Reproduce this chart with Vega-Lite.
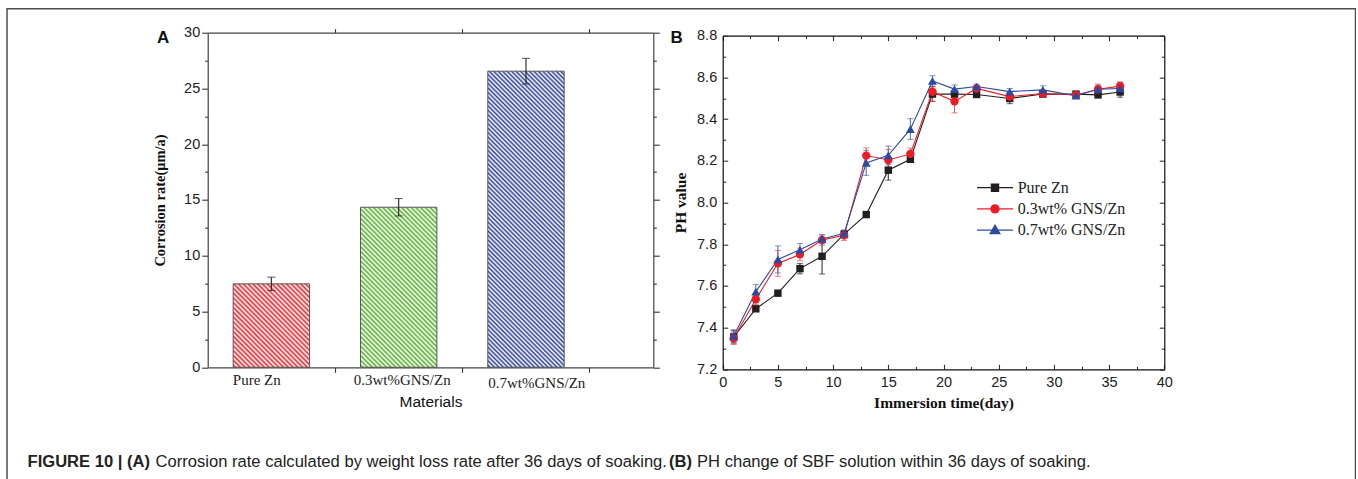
{
"$schema":"https://vega.github.io/schema/vega-lite/v6.json",
"width":1348.5,"height":480,
"autosize":{"type":"none"},
"padding":{"left":7,"top":8.7,"right":0,"bottom":0},
"background":"white",
"view":{"stroke":"#4d4d4d","strokeWidth":1.5,"fill":"white"},
"config":{"font":"Liberation Sans","axis":{"grid":false,"domainColor":"#333","tickColor":"#333","domainWidth":1.2,"tickWidth":1.1,"labelColor":"#222","labelFont":"Liberation Sans","labelFontSize":14.5,"titleColor":"#111","labelFlush":false,"labelOverlap":false,"labelBound":false}},
"resolve":{"scale":{"x":"independent","y":"independent"},"axis":{"x":"independent","y":"independent"}},
"layer":[
{
"data":{"values":[{"material":"Pure Zn","rate":7.48,"err":0.6},{"material":"0.3wt%GNS/Zn","rate":14.35,"err":0.78},{"material":"0.7wt%GNS/Zn","rate":26.55,"err":1.15}]},
"resolve":{"axis":{"x":"independent","y":"independent"}},
"layer":[
{"transform":[{"filter":"datum.material === 'Pure Zn'"}],
"mark":{"type":"bar","width":{"band":0.6},"stroke":"#555","strokeWidth":1,"fill":{"gradient":"linear","x1":0,"y1":1,"x2":0.955,"y2":-0.041,"stops":[
{"offset":0,"color":"#fff"},{"offset":0.015,"color":"#e8262d"},{"offset":0.03,"color":"#fff"},{"offset":0.045,"color":"#e8262d"},{"offset":0.06,"color":"#fff"},{"offset":0.075,"color":"#e8262d"},{"offset":0.09,"color":"#fff"},{"offset":0.105,"color":"#e8262d"},{"offset":0.12,"color":"#fff"},{"offset":0.135,"color":"#e8262d"},{"offset":0.15,"color":"#fff"},{"offset":0.165,"color":"#e8262d"},{"offset":0.18,"color":"#fff"},{"offset":0.195,"color":"#e8262d"},{"offset":0.21,"color":"#fff"},{"offset":0.225,"color":"#e8262d"},{"offset":0.24,"color":"#fff"},{"offset":0.255,"color":"#e8262d"},{"offset":0.27,"color":"#fff"},{"offset":0.285,"color":"#e8262d"},{"offset":0.3,"color":"#fff"},{"offset":0.315,"color":"#e8262d"},{"offset":0.33,"color":"#fff"},{"offset":0.345,"color":"#e8262d"},{"offset":0.36,"color":"#fff"},{"offset":0.375,"color":"#e8262d"},{"offset":0.39,"color":"#fff"},{"offset":0.405,"color":"#e8262d"},{"offset":0.42,"color":"#fff"},{"offset":0.435,"color":"#e8262d"},{"offset":0.45,"color":"#fff"},{"offset":0.465,"color":"#e8262d"},{"offset":0.48,"color":"#fff"},{"offset":0.495,"color":"#e8262d"},{"offset":0.51,"color":"#fff"},{"offset":0.525,"color":"#e8262d"},{"offset":0.54,"color":"#fff"},{"offset":0.555,"color":"#e8262d"},{"offset":0.57,"color":"#fff"},{"offset":0.585,"color":"#e8262d"},{"offset":0.6,"color":"#fff"},{"offset":0.615,"color":"#e8262d"},{"offset":0.63,"color":"#fff"},{"offset":0.645,"color":"#e8262d"},{"offset":0.66,"color":"#fff"},{"offset":0.675,"color":"#e8262d"},{"offset":0.69,"color":"#fff"},{"offset":0.705,"color":"#e8262d"},{"offset":0.72,"color":"#fff"},{"offset":0.735,"color":"#e8262d"},{"offset":0.75,"color":"#fff"},{"offset":0.765,"color":"#e8262d"},{"offset":0.78,"color":"#fff"},{"offset":0.795,"color":"#e8262d"},{"offset":0.81,"color":"#fff"},{"offset":0.825,"color":"#e8262d"},{"offset":0.84,"color":"#fff"},{"offset":0.855,"color":"#e8262d"},{"offset":0.87,"color":"#fff"},{"offset":0.885,"color":"#e8262d"},{"offset":0.9,"color":"#fff"},{"offset":0.915,"color":"#e8262d"},{"offset":0.93,"color":"#fff"},{"offset":0.945,"color":"#e8262d"},{"offset":0.96,"color":"#fff"},{"offset":0.975,"color":"#e8262d"},{"offset":0.99,"color":"#fff"},{"offset":1,"color":"#e8262d"}]}},
"encoding":{
"x":{"field":"material","type":"nominal","scale":{"domain":["Pure Zn","0.3wt%GNS/Zn","0.7wt%GNS/Zn"],"range":[200.7,646.3],"paddingInner":0,"paddingOuter":0.25,"align":0},
"axis":{"orient":"bottom","offset":-121.4,"bandPosition":1,"tickSize":5,"domainColor":"#444","labelAngle":0,"labelAlign":"center","labelBaseline":"top","labelFont":"Liberation Serif","labelFontSize":15,"labelOffset":{"condition":[{"test":"datum.value === 'Pure Zn'","value":-14.6},{"test":"datum.value === '0.3wt%GNS/Zn'","value":3.5}],"value":10.8},"labelPadding":{"condition":{"test":"datum.value === '0.7wt%GNS/Zn'","value":3},"value":0},"title":"Materials","titleFont":"Liberation Sans","titleFontWeight":"normal","titleFontSize":15.5,"titlePadding":4}},
"y":{"field":"rate","type":"quantitative","scale":{"domain":[0,30],"range":[358.6,24],"nice":false,"zero":false},
"axis":{"orient":"left","offset":-200.7,"domainColor":"#444","values":[0,2.5,5,7.5,10,12.5,15,17.5,20,22.5,25,27.5,30],"tickSize":{"condition":{"test":"datum.value % 5 === 0","value":6},"value":3},"labelExpr":"datum.value % 5 === 0 ? datum.label : ''","labelPadding":2,"title":"Corrosion rate(μm/a)","titleFont":"Liberation Serif","titleFontWeight":"bold","titleFontSize":14.5,"titlePadding":16}}}},
{"transform":[{"filter":"datum.material === '0.3wt%GNS/Zn'"}],
"mark":{"type":"bar","width":{"band":0.6},"stroke":"#555","strokeWidth":1,"fill":{"gradient":"linear","x1":0,"y1":1,"x2":0.575,"y2":-0.203,"stops":[
{"offset":0,"color":"#fff"},{"offset":0.01,"color":"#58b030"},{"offset":0.02,"color":"#fff"},{"offset":0.03,"color":"#58b030"},{"offset":0.04,"color":"#fff"},{"offset":0.05,"color":"#58b030"},{"offset":0.06,"color":"#fff"},{"offset":0.07,"color":"#58b030"},{"offset":0.08,"color":"#fff"},{"offset":0.09,"color":"#58b030"},{"offset":0.1,"color":"#fff"},{"offset":0.11,"color":"#58b030"},{"offset":0.12,"color":"#fff"},{"offset":0.13,"color":"#58b030"},{"offset":0.14,"color":"#fff"},{"offset":0.15,"color":"#58b030"},{"offset":0.16,"color":"#fff"},{"offset":0.17,"color":"#58b030"},{"offset":0.18,"color":"#fff"},{"offset":0.19,"color":"#58b030"},{"offset":0.2,"color":"#fff"},{"offset":0.21,"color":"#58b030"},{"offset":0.22,"color":"#fff"},{"offset":0.23,"color":"#58b030"},{"offset":0.24,"color":"#fff"},{"offset":0.25,"color":"#58b030"},{"offset":0.26,"color":"#fff"},{"offset":0.27,"color":"#58b030"},{"offset":0.28,"color":"#fff"},{"offset":0.29,"color":"#58b030"},{"offset":0.3,"color":"#fff"},{"offset":0.31,"color":"#58b030"},{"offset":0.32,"color":"#fff"},{"offset":0.33,"color":"#58b030"},{"offset":0.34,"color":"#fff"},{"offset":0.35,"color":"#58b030"},{"offset":0.36,"color":"#fff"},{"offset":0.37,"color":"#58b030"},{"offset":0.38,"color":"#fff"},{"offset":0.39,"color":"#58b030"},{"offset":0.4,"color":"#fff"},{"offset":0.41,"color":"#58b030"},{"offset":0.42,"color":"#fff"},{"offset":0.43,"color":"#58b030"},{"offset":0.44,"color":"#fff"},{"offset":0.45,"color":"#58b030"},{"offset":0.46,"color":"#fff"},{"offset":0.47,"color":"#58b030"},{"offset":0.48,"color":"#fff"},{"offset":0.49,"color":"#58b030"},{"offset":0.5,"color":"#fff"},{"offset":0.51,"color":"#58b030"},{"offset":0.52,"color":"#fff"},{"offset":0.53,"color":"#58b030"},{"offset":0.54,"color":"#fff"},{"offset":0.55,"color":"#58b030"},{"offset":0.56,"color":"#fff"},{"offset":0.57,"color":"#58b030"},{"offset":0.58,"color":"#fff"},{"offset":0.59,"color":"#58b030"},{"offset":0.6,"color":"#fff"},{"offset":0.61,"color":"#58b030"},{"offset":0.62,"color":"#fff"},{"offset":0.63,"color":"#58b030"},{"offset":0.64,"color":"#fff"},{"offset":0.65,"color":"#58b030"},{"offset":0.66,"color":"#fff"},{"offset":0.67,"color":"#58b030"},{"offset":0.68,"color":"#fff"},{"offset":0.69,"color":"#58b030"},{"offset":0.7,"color":"#fff"},{"offset":0.71,"color":"#58b030"},{"offset":0.72,"color":"#fff"},{"offset":0.73,"color":"#58b030"},{"offset":0.74,"color":"#fff"},{"offset":0.75,"color":"#58b030"},{"offset":0.76,"color":"#fff"},{"offset":0.77,"color":"#58b030"},{"offset":0.78,"color":"#fff"},{"offset":0.79,"color":"#58b030"},{"offset":0.8,"color":"#fff"},{"offset":0.81,"color":"#58b030"},{"offset":0.82,"color":"#fff"},{"offset":0.83,"color":"#58b030"},{"offset":0.84,"color":"#fff"},{"offset":0.85,"color":"#58b030"},{"offset":0.86,"color":"#fff"},{"offset":0.87,"color":"#58b030"},{"offset":0.88,"color":"#fff"},{"offset":0.89,"color":"#58b030"},{"offset":0.9,"color":"#fff"},{"offset":0.91,"color":"#58b030"},{"offset":0.92,"color":"#fff"},{"offset":0.93,"color":"#58b030"},{"offset":0.94,"color":"#fff"},{"offset":0.95,"color":"#58b030"},{"offset":0.96,"color":"#fff"},{"offset":0.97,"color":"#58b030"},{"offset":0.98,"color":"#fff"},{"offset":0.99,"color":"#58b030"},{"offset":1,"color":"#fff"}]}},
"encoding":{
"x":{"field":"material","type":"nominal","scale":{"domain":["Pure Zn","0.3wt%GNS/Zn","0.7wt%GNS/Zn"],"range":[200.7,646.3],"paddingInner":0,"paddingOuter":0.25,"align":0},
"axis":{"orient":"bottom","offset":-121.4,"domain":false,"ticks":false,"labels":false,"title":"Corrosion rate calculated by weight loss rate after 36 days of soaking.","titleX":148,"titleY":99.7,"titleAngle":0,"titleAlign":"left","titleBaseline":"alphabetic","titleFont":"Liberation Sans","titleFontWeight":"normal","titleFontSize":16.6,"titleColor":"#222"}},
"y":{"field":"rate","type":"quantitative","scale":{"domain":[0,30],"range":[358.6,24],"nice":false,"zero":false},"axis":null}}},
{"transform":[{"filter":"datum.material === '0.7wt%GNS/Zn'"}],
"mark":{"type":"bar","width":{"band":0.6},"stroke":"#555","strokeWidth":1,"fill":{"gradient":"linear","x1":0,"y1":1,"x2":0.305,"y2":-0.18,"stops":[
{"offset":0,"color":"#fff"},{"offset":0.006,"color":"#2e3e9a"},{"offset":0.012,"color":"#fff"},{"offset":0.018,"color":"#2e3e9a"},{"offset":0.024,"color":"#fff"},{"offset":0.03,"color":"#2e3e9a"},{"offset":0.036,"color":"#fff"},{"offset":0.042,"color":"#2e3e9a"},{"offset":0.048,"color":"#fff"},{"offset":0.054,"color":"#2e3e9a"},{"offset":0.06,"color":"#fff"},{"offset":0.066,"color":"#2e3e9a"},{"offset":0.072,"color":"#fff"},{"offset":0.078,"color":"#2e3e9a"},{"offset":0.084,"color":"#fff"},{"offset":0.09,"color":"#2e3e9a"},{"offset":0.096,"color":"#fff"},{"offset":0.102,"color":"#2e3e9a"},{"offset":0.108,"color":"#fff"},{"offset":0.114,"color":"#2e3e9a"},{"offset":0.12,"color":"#fff"},{"offset":0.126,"color":"#2e3e9a"},{"offset":0.132,"color":"#fff"},{"offset":0.138,"color":"#2e3e9a"},{"offset":0.144,"color":"#fff"},{"offset":0.15,"color":"#2e3e9a"},{"offset":0.156,"color":"#fff"},{"offset":0.162,"color":"#2e3e9a"},{"offset":0.168,"color":"#fff"},{"offset":0.174,"color":"#2e3e9a"},{"offset":0.18,"color":"#fff"},{"offset":0.186,"color":"#2e3e9a"},{"offset":0.192,"color":"#fff"},{"offset":0.198,"color":"#2e3e9a"},{"offset":0.204,"color":"#fff"},{"offset":0.21,"color":"#2e3e9a"},{"offset":0.216,"color":"#fff"},{"offset":0.222,"color":"#2e3e9a"},{"offset":0.228,"color":"#fff"},{"offset":0.234,"color":"#2e3e9a"},{"offset":0.24,"color":"#fff"},{"offset":0.246,"color":"#2e3e9a"},{"offset":0.252,"color":"#fff"},{"offset":0.258,"color":"#2e3e9a"},{"offset":0.264,"color":"#fff"},{"offset":0.27,"color":"#2e3e9a"},{"offset":0.276,"color":"#fff"},{"offset":0.282,"color":"#2e3e9a"},{"offset":0.288,"color":"#fff"},{"offset":0.294,"color":"#2e3e9a"},{"offset":0.3,"color":"#fff"},{"offset":0.306,"color":"#2e3e9a"},{"offset":0.312,"color":"#fff"},{"offset":0.318,"color":"#2e3e9a"},{"offset":0.324,"color":"#fff"},{"offset":0.33,"color":"#2e3e9a"},{"offset":0.336,"color":"#fff"},{"offset":0.342,"color":"#2e3e9a"},{"offset":0.348,"color":"#fff"},{"offset":0.354,"color":"#2e3e9a"},{"offset":0.36,"color":"#fff"},{"offset":0.366,"color":"#2e3e9a"},{"offset":0.372,"color":"#fff"},{"offset":0.378,"color":"#2e3e9a"},{"offset":0.384,"color":"#fff"},{"offset":0.39,"color":"#2e3e9a"},{"offset":0.396,"color":"#fff"},{"offset":0.402,"color":"#2e3e9a"},{"offset":0.408,"color":"#fff"},{"offset":0.414,"color":"#2e3e9a"},{"offset":0.42,"color":"#fff"},{"offset":0.426,"color":"#2e3e9a"},{"offset":0.432,"color":"#fff"},{"offset":0.438,"color":"#2e3e9a"},{"offset":0.444,"color":"#fff"},{"offset":0.45,"color":"#2e3e9a"},{"offset":0.456,"color":"#fff"},{"offset":0.462,"color":"#2e3e9a"},{"offset":0.468,"color":"#fff"},{"offset":0.474,"color":"#2e3e9a"},{"offset":0.48,"color":"#fff"},{"offset":0.486,"color":"#2e3e9a"},{"offset":0.492,"color":"#fff"},{"offset":0.498,"color":"#2e3e9a"},{"offset":0.504,"color":"#fff"},{"offset":0.51,"color":"#2e3e9a"},{"offset":0.516,"color":"#fff"},{"offset":0.522,"color":"#2e3e9a"},{"offset":0.528,"color":"#fff"},{"offset":0.534,"color":"#2e3e9a"},{"offset":0.54,"color":"#fff"},{"offset":0.546,"color":"#2e3e9a"},{"offset":0.552,"color":"#fff"},{"offset":0.558,"color":"#2e3e9a"},{"offset":0.564,"color":"#fff"},{"offset":0.57,"color":"#2e3e9a"},{"offset":0.576,"color":"#fff"},{"offset":0.582,"color":"#2e3e9a"},{"offset":0.588,"color":"#fff"},{"offset":0.594,"color":"#2e3e9a"},{"offset":0.6,"color":"#fff"},{"offset":0.606,"color":"#2e3e9a"},{"offset":0.612,"color":"#fff"},{"offset":0.618,"color":"#2e3e9a"},{"offset":0.624,"color":"#fff"},{"offset":0.63,"color":"#2e3e9a"},{"offset":0.636,"color":"#fff"},{"offset":0.642,"color":"#2e3e9a"},{"offset":0.648,"color":"#fff"},{"offset":0.654,"color":"#2e3e9a"},{"offset":0.66,"color":"#fff"},{"offset":0.666,"color":"#2e3e9a"},{"offset":0.672,"color":"#fff"},{"offset":0.678,"color":"#2e3e9a"},{"offset":0.684,"color":"#fff"},{"offset":0.69,"color":"#2e3e9a"},{"offset":0.696,"color":"#fff"},{"offset":0.702,"color":"#2e3e9a"},{"offset":0.708,"color":"#fff"},{"offset":0.714,"color":"#2e3e9a"},{"offset":0.72,"color":"#fff"},{"offset":0.726,"color":"#2e3e9a"},{"offset":0.732,"color":"#fff"},{"offset":0.738,"color":"#2e3e9a"},{"offset":0.744,"color":"#fff"},{"offset":0.75,"color":"#2e3e9a"},{"offset":0.756,"color":"#fff"},{"offset":0.762,"color":"#2e3e9a"},{"offset":0.768,"color":"#fff"},{"offset":0.774,"color":"#2e3e9a"},{"offset":0.78,"color":"#fff"},{"offset":0.786,"color":"#2e3e9a"},{"offset":0.792,"color":"#fff"},{"offset":0.798,"color":"#2e3e9a"},{"offset":0.804,"color":"#fff"},{"offset":0.81,"color":"#2e3e9a"},{"offset":0.816,"color":"#fff"},{"offset":0.822,"color":"#2e3e9a"},{"offset":0.828,"color":"#fff"},{"offset":0.834,"color":"#2e3e9a"},{"offset":0.84,"color":"#fff"},{"offset":0.846,"color":"#2e3e9a"},{"offset":0.852,"color":"#fff"},{"offset":0.858,"color":"#2e3e9a"},{"offset":0.864,"color":"#fff"},{"offset":0.87,"color":"#2e3e9a"},{"offset":0.876,"color":"#fff"},{"offset":0.882,"color":"#2e3e9a"},{"offset":0.888,"color":"#fff"},{"offset":0.894,"color":"#2e3e9a"},{"offset":0.9,"color":"#fff"},{"offset":0.906,"color":"#2e3e9a"},{"offset":0.912,"color":"#fff"},{"offset":0.918,"color":"#2e3e9a"},{"offset":0.924,"color":"#fff"},{"offset":0.93,"color":"#2e3e9a"},{"offset":0.936,"color":"#fff"},{"offset":0.942,"color":"#2e3e9a"},{"offset":0.948,"color":"#fff"},{"offset":0.954,"color":"#2e3e9a"},{"offset":0.96,"color":"#fff"},{"offset":0.966,"color":"#2e3e9a"},{"offset":0.972,"color":"#fff"},{"offset":0.978,"color":"#2e3e9a"},{"offset":0.984,"color":"#fff"},{"offset":0.99,"color":"#2e3e9a"},{"offset":0.996,"color":"#fff"}]}},
"encoding":{
"x":{"field":"material","type":"nominal","scale":{"domain":["Pure Zn","0.3wt%GNS/Zn","0.7wt%GNS/Zn"],"range":[200.7,646.3],"paddingInner":0,"paddingOuter":0.25,"align":0},"axis":null},
"y":{"field":"rate","type":"quantitative","scale":{"domain":[0,30],"range":[358.6,24],"nice":false,"zero":false},"axis":null}}},
{"mark":{"type":"errorbar","ticks":{"size":8,"color":"#222"},"rule":{"color":"#222"},"thickness":1.1},
"encoding":{
"x":{"field":"material","type":"nominal","scale":{"domain":["Pure Zn","0.3wt%GNS/Zn","0.7wt%GNS/Zn"],"range":[200.7,646.3],"paddingInner":0,"paddingOuter":0.25,"align":0},
"axis":{"orient":"top","offset":-24,"bandPosition":1,"tickSize":4,"domainColor":"#444","labels":false,"title":"A","titleX":155.5,"titleY":5.3,"titleAngle":0,"titleAlign":"center","titleBaseline":"middle","titleFont":"Liberation Sans","titleFontWeight":"bold","titleFontSize":17,"titleColor":"#111"}},
"y":{"field":"rate","type":"quantitative","scale":{"domain":[0,30],"range":[358.6,24],"nice":false,"zero":false},
"axis":{"orient":"right","offset":-702.2,"domainColor":"#444","values":[0,2.5,5,7.5,10,12.5,15,17.5,20,22.5,25,27.5,30],"tickSize":{"condition":{"test":"datum.value % 5 === 0","value":6},"value":3},"labels":false,"title":"FIGURE 10 | (A)","titleX":-626.3,"titleY":458.3,"titleAngle":0,"titleAlign":"left","titleBaseline":"alphabetic","titleFont":"Liberation Sans","titleFontWeight":"bold","titleFontSize":16.6,"titleColor":"#222"}},
"yError":{"field":"err"}}}
]
},
{
"data":{"values":[
{"day":1,"series":"Pure Zn","ph":7.355,"err":0.03},{"day":3,"series":"Pure Zn","ph":7.49,"err":0.012},{"day":5,"series":"Pure Zn","ph":7.565,"err":0.01},{"day":7,"series":"Pure Zn","ph":7.683,"err":0.025},{"day":9,"series":"Pure Zn","ph":7.742,"err":0.085},{"day":11,"series":"Pure Zn","ph":7.848,"err":0.012},{"day":13,"series":"Pure Zn","ph":7.942,"err":0.012},{"day":15,"series":"Pure Zn","ph":8.155,"err":0.048},{"day":17,"series":"Pure Zn","ph":8.207,"err":0.015},{"day":19,"series":"Pure Zn","ph":8.52,"err":0.035},{"day":21,"series":"Pure Zn","ph":8.52,"err":0.015},{"day":23,"series":"Pure Zn","ph":8.518,"err":0.01},{"day":26,"series":"Pure Zn","ph":8.499,"err":0.025},{"day":29,"series":"Pure Zn","ph":8.52,"err":0.012},{"day":32,"series":"Pure Zn","ph":8.52,"err":0.012},{"day":34,"series":"Pure Zn","ph":8.516,"err":0.012},{"day":36,"series":"Pure Zn","ph":8.53,"err":0.025},
{"day":1,"series":"0.3wt% GNS/Zn","ph":7.349,"err":0.03},{"day":3,"series":"0.3wt% GNS/Zn","ph":7.536,"err":0.025},{"day":5,"series":"0.3wt% GNS/Zn","ph":7.708,"err":0.062},{"day":7,"series":"0.3wt% GNS/Zn","ph":7.751,"err":0.03},{"day":9,"series":"0.3wt% GNS/Zn","ph":7.82,"err":0.025},{"day":11,"series":"0.3wt% GNS/Zn","ph":7.843,"err":0.025},{"day":13,"series":"0.3wt% GNS/Zn","ph":8.225,"err":0.037},{"day":15,"series":"0.3wt% GNS/Zn","ph":8.204,"err":0.05},{"day":17,"series":"0.3wt% GNS/Zn","ph":8.233,"err":0.028},{"day":19,"series":"0.3wt% GNS/Zn","ph":8.531,"err":0.045},{"day":21,"series":"0.3wt% GNS/Zn","ph":8.485,"err":0.055},{"day":23,"series":"0.3wt% GNS/Zn","ph":8.547,"err":0.015},{"day":26,"series":"0.3wt% GNS/Zn","ph":8.508,"err":0.02},{"day":29,"series":"0.3wt% GNS/Zn","ph":8.523,"err":0.012},{"day":32,"series":"0.3wt% GNS/Zn","ph":8.516,"err":0.012},{"day":34,"series":"0.3wt% GNS/Zn","ph":8.543,"err":0.025},{"day":36,"series":"0.3wt% GNS/Zn","ph":8.558,"err":0.02},
{"day":1,"series":"0.7wt% GNS/Zn","ph":7.36,"err":0.03},{"day":3,"series":"0.7wt% GNS/Zn","ph":7.572,"err":0.035},{"day":5,"series":"0.7wt% GNS/Zn","ph":7.727,"err":0.065},{"day":7,"series":"0.7wt% GNS/Zn","ph":7.773,"err":0.03},{"day":9,"series":"0.7wt% GNS/Zn","ph":7.825,"err":0.02},{"day":11,"series":"0.7wt% GNS/Zn","ph":7.852,"err":0.015},{"day":13,"series":"0.7wt% GNS/Zn","ph":8.19,"err":0.06},{"day":15,"series":"0.7wt% GNS/Zn","ph":8.226,"err":0.045},{"day":17,"series":"0.7wt% GNS/Zn","ph":8.352,"err":0.05},{"day":19,"series":"0.7wt% GNS/Zn","ph":8.583,"err":0.025},{"day":21,"series":"0.7wt% GNS/Zn","ph":8.544,"err":0.02},{"day":23,"series":"0.7wt% GNS/Zn","ph":8.556,"err":0.012},{"day":26,"series":"0.7wt% GNS/Zn","ph":8.532,"err":0.015},{"day":29,"series":"0.7wt% GNS/Zn","ph":8.54,"err":0.02},{"day":32,"series":"0.7wt% GNS/Zn","ph":8.512,"err":0.012},{"day":34,"series":"0.7wt% GNS/Zn","ph":8.543,"err":0.02},{"day":36,"series":"0.7wt% GNS/Zn","ph":8.547,"err":0.03}
]},
"resolve":{"axis":{"x":"independent","y":"independent"}},
"layer":[
{"mark":{"type":"line","strokeWidth":1.1},
"encoding":{
"x":{"field":"day","type":"quantitative","scale":{"domain":[0,40],"range":[715.7,1157.3],"nice":false,"zero":false},
"axis":{"orient":"bottom","offset":-119.4,"domainColor":"#111","values":[0,2.5,5,7.5,10,12.5,15,17.5,20,22.5,25,27.5,30,32.5,35,37.5,40],"tickSize":{"condition":{"test":"datum.value % 5 === 0","value":-5},"value":-3},"labelExpr":"datum.value % 5 === 0 ? datum.label : ''","labelPadding":11,"title":"Immersion time(day)","titleFont":"Liberation Serif","titleFontWeight":"bold","titleFontSize":15.5,"titlePadding":5}},
"y":{"field":"ph","type":"quantitative","scale":{"domain":[7.2,8.8],"range":[360.6,27],"nice":false,"zero":false},
"axis":{"orient":"left","offset":-715.7,"domainColor":"#111","values":[7.2,7.3,7.4,7.5,7.6,7.7,7.8,7.9,8,8.1,8.2,8.3,8.4,8.5,8.6,8.7,8.8],"tickSize":{"condition":{"test":"round(datum.value*10) % 2 === 0","value":-5},"value":-3},"labelExpr":"round(datum.value*10) % 2 === 0 ? format(datum.value, '.1f') : ''","labelPadding":11,"title":"PH value","titleFont":"Liberation Serif","titleFontWeight":"bold","titleFontSize":15.5,"titlePadding":8}},
"detail":{"field":"series","type":"nominal"},
"color":{"condition":[{"test":"datum.series === 'Pure Zn'","value":"#231f20"},{"test":"datum.series === '0.3wt% GNS/Zn'","value":"#ed1c24"}],"value":"#2c4aa0"}}},
{"mark":{"type":"errorbar","ticks":{"size":6},"thickness":1},
"encoding":{
"x":{"field":"day","type":"quantitative","scale":{"domain":[0,40],"range":[715.7,1157.3],"nice":false,"zero":false},
"axis":{"orient":"top","offset":-27,"domainColor":"#111","values":[0,2.5,5,7.5,10,12.5,15,17.5,20,22.5,25,27.5,30,32.5,35,37.5,40],"tickSize":{"condition":{"test":"datum.value % 5 === 0","value":-5},"value":-3},"labels":false,"title":"B","titleX":669,"titleY":1.8,"titleAngle":0,"titleAlign":"center","titleBaseline":"middle","titleFont":"Liberation Sans","titleFontWeight":"bold","titleFontSize":17,"titleColor":"#111"}},
"y":{"field":"ph","type":"quantitative","scale":{"domain":[7.2,8.8],"range":[360.6,27],"nice":false,"zero":false},
"axis":{"orient":"right","offset":-191.2,"domainColor":"#111","values":[7.2,7.3,7.4,7.5,7.6,7.7,7.8,7.9,8,8.1,8.2,8.3,8.4,8.5,8.6,8.7,8.8],"tickSize":{"condition":{"test":"round(datum.value*10) % 2 === 0","value":-5},"value":-3},"labels":false,"title":"(B)","titleX":-495.8,"titleY":458.3,"titleAngle":0,"titleAlign":"left","titleBaseline":"alphabetic","titleFont":"Liberation Sans","titleFontWeight":"bold","titleFontSize":16.6,"titleColor":"#222"}},
"yError":{"field":"err"},
"color":{"condition":[{"test":"datum.series === 'Pure Zn'","value":"#231f20"},{"test":"datum.series === '0.3wt% GNS/Zn'","value":"#ef4a50"}],"value":"#4a68b8"}}},
{"transform":[{"filter":"datum.series === 'Pure Zn'"}],
"mark":{"type":"point","shape":"square","filled":true,"size":55,"color":"#231f20","opacity":1},
"encoding":{
"x":{"field":"day","type":"quantitative","scale":{"domain":[0,40],"range":[715.7,1157.3],"nice":false,"zero":false},
"axis":{"orient":"bottom","offset":-119.4,"domain":false,"ticks":false,"labels":false,"title":"PH change of SBF solution within 36 days of soaking.","titleX":689.5,"titleY":97.7,"titleAngle":0,"titleAlign":"left","titleBaseline":"alphabetic","titleFont":"Liberation Sans","titleFontWeight":"normal","titleFontSize":16.6,"titleColor":"#222"}},
"y":{"field":"ph","type":"quantitative","scale":{"domain":[7.2,8.8],"range":[360.6,27],"nice":false,"zero":false},"axis":null}}},
{"transform":[{"filter":"datum.series === '0.3wt% GNS/Zn'"}],
"mark":{"type":"point","shape":"circle","filled":true,"size":70,"color":"#ed1c24","opacity":1},
"encoding":{
"x":{"field":"day","type":"quantitative","scale":{"domain":[0,40],"range":[715.7,1157.3],"nice":false,"zero":false},"axis":null},
"y":{"field":"ph","type":"quantitative","scale":{"domain":[7.2,8.8],"range":[360.6,27],"nice":false,"zero":false},"axis":null}}},
{"transform":[{"filter":"datum.series === '0.7wt% GNS/Zn'"}],
"mark":{"type":"point","shape":"triangle-up","filled":true,"size":80,"color":"#2c4aa0","opacity":1},
"encoding":{
"x":{"field":"day","type":"quantitative","scale":{"domain":[0,40],"range":[715.7,1157.3],"nice":false,"zero":false},"axis":null},
"y":{"field":"ph","type":"quantitative","scale":{"domain":[7.2,8.8],"range":[360.6,27],"nice":false,"zero":false},"axis":null}}},
{"transform":[{"filter":"false"}],
"mark":{"type":"point","filled":true},
"encoding":{
"x":{"field":"day","type":"quantitative","scale":{"domain":[0,40],"range":[715.7,1157.3],"nice":false,"zero":false},"axis":null},
"y":{"field":"ph","type":"quantitative","scale":{"domain":[7.2,8.8],"range":[360.6,27],"nice":false,"zero":false},"axis":null},
"color":{"field":"series","type":"nominal","scale":{"domain":["Pure Zn","0.3wt% GNS/Zn","0.7wt% GNS/Zn"],"range":["#231f20","#ed1c24","#2c4aa0"]},"legend":{"orient":"none","legendX":977,"legendY":168,"direction":"vertical","title":null,"symbolSize":400,"symbolStrokeWidth":1.2,"symbolOpacity":1,"labelFont":"Liberation Serif","labelFontSize":16,"labelColor":"#222","labelOffset":11.7,"rowPadding":2.2,"padding":0,"labelLimit":300}},
"stroke":{"field":"series","type":"nominal","scale":{"domain":["Pure Zn","0.3wt% GNS/Zn","0.7wt% GNS/Zn"],"range":["#231f20","#ed1c24","#2c4aa0"]},"legend":{"orient":"none","legendX":977,"legendY":168,"direction":"vertical","title":null,"symbolSize":400,"symbolStrokeWidth":1.2,"symbolOpacity":1,"labelFont":"Liberation Serif","labelFontSize":16,"labelColor":"#222","labelOffset":11.7,"rowPadding":2.2,"padding":0,"labelLimit":300}},
"shape":{"field":"series","type":"nominal","scale":{"domain":["Pure Zn","0.3wt% GNS/Zn","0.7wt% GNS/Zn"],"range":["M-1.8,0H1.8M-0.36,-0.36H0.36V0.36H-0.36Z","M-1.8,0H1.8M-0.41,0A0.41,0.41,0,1,0,0.41,0A0.41,0.41,0,1,0,-0.41,0Z","M-1.8,0H1.8M0,-0.5L0.49,0.36L-0.49,0.36Z"]},"legend":{"orient":"none","legendX":977,"legendY":168,"direction":"vertical","title":null,"symbolSize":400,"symbolStrokeWidth":1.2,"symbolOpacity":1,"labelFont":"Liberation Serif","labelFontSize":16,"labelColor":"#222","labelOffset":11.7,"rowPadding":2.2,"padding":0,"labelLimit":300}}}}
]
}
]
}
